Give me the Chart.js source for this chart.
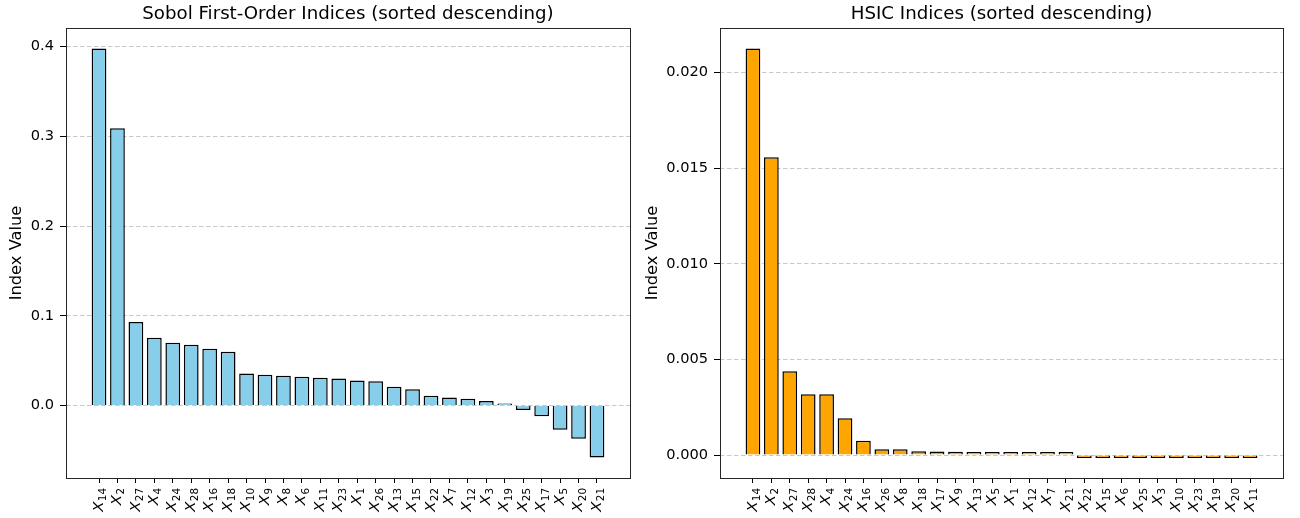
<!DOCTYPE html>
<html>
<head>
<meta charset="utf-8">
<script src="https://cdn.jsdelivr.net/npm/chart.js@4/dist/chart.umd.min.js"></script>
<style>
    html, body { margin: 0; padding: 0; background: #fff; }
    #wrap { position: relative; width: 1300px; height: 518px; }
    #leftBox { position: absolute; left: 0; top: 0; width: 640px; height: 518px; }
    #rightBox { position: absolute; left: 640px; top: 0; width: 660px; height: 518px; }
</style>
</head>
<body>
<div id="wrap">
    <div id="leftBox"><canvas id="sobolChart"></canvas></div>
    <div id="rightBox"><canvas id="hsicChart"></canvas></div>
</div>
<script>
const sobolNames = [14, 2, 27, 4, 24, 28, 16, 18, 10, 9, 8, 6, 11, 23, 1, 26, 13, 15, 22, 7, 12, 3, 19, 25, 17, 5, 20, 21];
const sobolValues = [0.398, 0.309, 0.093, 0.0756, 0.070, 0.0678, 0.0633, 0.060, 0.0356, 0.0344, 0.0333, 0.032, 0.031, 0.030,
    0.0278, 0.027, 0.021, 0.018, 0.011, 0.009, 0.0075, 0.005, 0.001, -0.005, -0.012, -0.027, -0.037, -0.058];
const sobolTicks = [0.0, 0.1, 0.2, 0.3, 0.4];

const hsicNames = [14, 2, 27, 28, 4, 24, 16, 26, 8, 18, 17, 9, 13, 5, 1, 12, 7, 21, 22, 15, 6, 25, 3, 10, 23, 19, 20, 11];
const hsicValues = [0.02125, 0.01557, 0.00438, 0.00318, 0.00318, 0.00193, 0.00075, 0.0003, 0.0003, 0.0002, 0.00018, 0.00017,
    0.00013, 0.0001, 0.00009, 0.00005, 0.00003, 0.00001, -0.00001, -0.00002, -0.00003, -0.00005, -0.00006, -0.00007,
    -0.00007, -0.00009, -0.0001, -0.00013];
const hsicTicks = [0.000, 0.005, 0.010, 0.015, 0.020];

const FONT = 'DejaVu Sans';

// frame round the plot, title over the plot, and X_n tick labels with real subscripts
const decorations = {
    id: 'decorations',
    afterDraw(chart, args, o) {
        const a = chart.chartArea;
        const ctx = chart.ctx;
        ctx.save();
        ctx.strokeStyle = '#262626';
        ctx.lineWidth = 1;
        ctx.strokeRect(Math.round(a.left) + 0.5, Math.round(a.top) + 0.5,
            Math.round(a.right - a.left), Math.round(a.bottom - a.top));

        ctx.fillStyle = '#000';
        ctx.font = '18.2px "' + FONT + '"';
        ctx.textAlign = 'center';
        ctx.textBaseline = 'alphabetic';
        ctx.fillText(o.title, (a.left + a.right) / 2, 19);

        const xs = chart.scales.x;
        const y0 = a.bottom + 10;
        o.names.forEach((n, i) => {
            const x = xs.getPixelForValue(i);
            ctx.save();
            ctx.translate(x, y0);
            ctx.rotate(-Math.PI / 2);
            ctx.textAlign = 'right';
            ctx.font = '10.4px "' + FONT + '"';
            const sub = String(n);
            const wSub = ctx.measureText(sub).width;
            ctx.fillText(sub, 0, 3.6 + 3.4);
            ctx.font = 'italic 14.8px "' + FONT + '"';
            ctx.fillText('X', -wSub - 0.5, 3.6);
            ctx.restore();
        });
        ctx.restore();
    }
};

function buildChart(canvasId, opts) {
    const ctx = document.getElementById(canvasId).getContext('2d');
    const n = opts.names.length;
    const pad = (n - 0.2) * 0.05;
    const lo = Math.min(...opts.values), hi = Math.max(...opts.values);
    const yPad = (hi - lo) * 0.05;
    return new Chart(ctx, {
        type: 'bar',
        data: {
            datasets: [{
                data: opts.values.map((v, i) => ({ x: i, y: v })),
                backgroundColor: opts.color,
                borderColor: '#000',
                borderWidth: 1.5,
                minBarLength: opts.minBar,
                barPercentage: 0.8,
                categoryPercentage: 1.0
            }]
        },
        options: {
            responsive: true,
            maintainAspectRatio: false,
            animation: false,
            layout: { padding: { left: 0, right: opts.padRight, top: 28, bottom: 0 } },
            plugins: {
                legend: { display: false },
                tooltip: { enabled: false },
                title: { display: false },
                decorations: { title: opts.title, names: opts.names }
            },
            scales: {
                x: {
                    type: 'linear',
                    offset: false,
                    min: -0.4 - pad,
                    max: n - 1 + 0.4 + pad,
                    afterBuildTicks: (scale) => {
                        scale.ticks = opts.names.map((_, i) => ({ value: i }));
                    },
                    afterFit: (scale) => { scale.height = 40; },
                    grid: { offset: false, color: 'rgba(0,0,0,0)', tickColor: '#000', tickLength: 5, drawOnChartArea: false },
                    border: { display: false },
                    ticks: {
                        autoSkip: false,
                        maxRotation: 0,
                        color: '#000',
                        font: { family: FONT, size: 14 },
                        callback: () => ''
                    }
                },
                y: {
                    min: lo - yPad,
                    max: hi + yPad,
                    afterBuildTicks: (scale) => {
                        scale.ticks = opts.ticks.map(t => ({ value: t }));
                    },
                    afterFit: (scale) => { scale.width = opts.axisWidth; },
                    grid: {
                        color: 'rgba(176,176,176,0.7)',
                        lineWidth: 1,
                        tickColor: '#000',
                        tickBorderDash: [1, 0],
                        tickLength: 6
                    },
                    border: { display: false, dash: [4.5, 2.5] },
                    title: {
                        display: true,
                        text: 'Index Value',
                        color: '#000',
                        font: { family: FONT, size: 16.3 },
                        padding: { top: opts.labelPad, bottom: 0 }
                    },
                    ticks: {
                        padding: 6,
                        color: '#000',
                        font: { family: FONT, size: 14.6 },
                        callback: (v) => v.toFixed(opts.digits)
                    }
                }
            }
        },
        plugins: [decorations]
    });
}

buildChart('sobolChart', {
    names: sobolNames, values: sobolValues, ticks: sobolTicks,
    title: 'Sobol First-Order Indices (sorted descending)',
    color: '#87CEEB', digits: 1, axisWidth: 66, padRight: 10, labelPad: 6.7, minBar: 2
});

buildChart('hsicChart', {
    names: hsicNames, values: hsicValues, ticks: hsicTicks,
    title: 'HSIC Indices (sorted descending)',
    color: '#FFA500', digits: 3, axisWidth: 80, padRight: 17, labelPad: 2.5, minBar: 3
});
</script>
</body>
</html>
